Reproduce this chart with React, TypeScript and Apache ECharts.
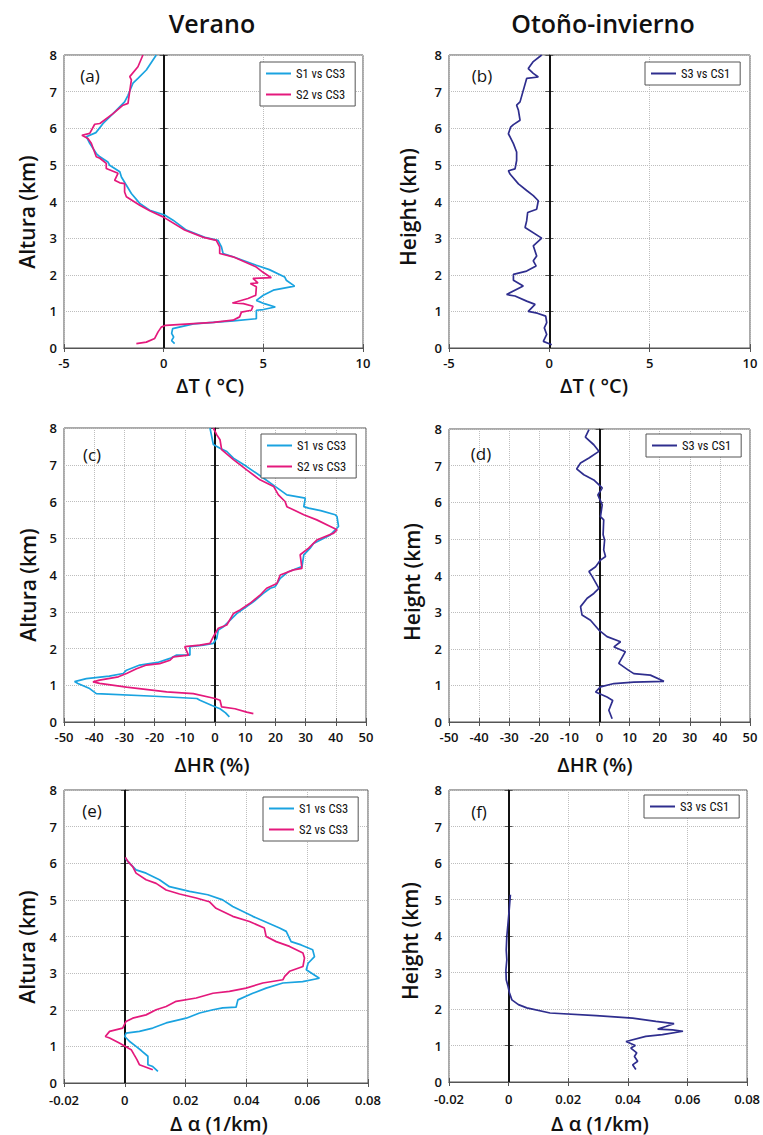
import React, { useEffect, useRef } from "react";
import * as echarts from "echarts";

// ---------- DATA (x = difference, y = height km) ----------
const yTicks = [0, 1, 2, 3, 4, 5, 6, 7, 8];
const seriesNamesVerano = ["S1 vs CS3", "S2 vs CS3"];
const seriesNamesOtono = ["S3 vs CS1"];

const aS1 = [[0.55,0.12],[0.4,0.2],[0.5,0.3],[0.4,0.4],[0.45,0.53],[1.5,0.66],[3.5,0.74],[4.65,0.8],[4.65,1.03],[5.0,1.05],[5.6,1.12],[5.05,1.21],[4.65,1.3],[5.0,1.44],[5.5,1.58],[6.57,1.69],[6.15,1.85],[6.07,1.94],[5.3,2.14],[4.65,2.26],[3.48,2.49],[2.98,2.58],[2.9,2.76],[2.73,2.94],[2.06,3.02],[1.14,3.22],[0.47,3.49],[0.05,3.63],[-0.7,3.76],[-1.2,3.95],[-1.62,4.22],[-1.9,4.47],[-2.12,4.67],[-2.2,4.81],[-2.71,4.99],[-2.8,5.08],[-3.2,5.22],[-3.38,5.31],[-3.71,5.59],[-3.88,5.77],[-3.4,5.88],[-3.04,6.13],[-2.54,6.4],[-1.96,6.72],[-1.79,6.9],[-1.54,7.23],[-1.29,7.36],[-0.87,7.59],[-0.37,8.0]];
const aS2 = [[-1.37,0.12],[-0.87,0.16],[-0.45,0.26],[-0.28,0.44],[-0.12,0.57],[0.1,0.62],[2.5,0.7],[3.48,0.76],[3.81,0.85],[3.9,0.98],[4.4,1.03],[4.48,1.14],[4.0,1.21],[3.45,1.23],[4.23,1.35],[4.62,1.44],[4.65,1.67],[4.35,1.76],[4.73,1.78],[4.48,1.9],[5.4,1.92],[5.0,2.06],[4.65,2.21],[3.48,2.49],[2.81,2.58],[2.81,2.76],[2.64,2.94],[2.0,3.02],[1.05,3.22],[-0.03,3.58],[-0.7,3.75],[-1.2,3.9],[-1.87,4.13],[-1.96,4.26],[-1.96,4.49],[-2.2,4.51],[-2.46,4.58],[-2.29,4.77],[-2.88,4.9],[-2.88,5.04],[-3.2,5.18],[-3.38,5.22],[-3.63,5.59],[-3.8,5.72],[-4.1,5.81],[-3.71,5.86],[-3.46,6.11],[-3.2,6.13],[-2.54,6.4],[-2.04,6.63],[-1.79,6.68],[-1.62,7.32],[-1.7,7.41],[-1.29,7.68],[-1.04,8.0]];
const bS3 = [[0.12,0.09],[-0.3,0.18],[-0.13,0.37],[-0.25,0.55],[-0.13,0.69],[-0.18,0.87],[-0.6,0.95],[-1.05,1.0],[-0.71,1.19],[-1.13,1.28],[-1.71,1.42],[-2.13,1.46],[-1.3,1.69],[-1.79,1.85],[-1.79,2.01],[-1.13,2.1],[-0.66,2.24],[-0.8,2.38],[-0.63,2.51],[-0.8,2.79],[-0.38,3.0],[-1.21,3.29],[-1.13,3.47],[-1.08,3.7],[-0.63,3.79],[-0.55,4.02],[-0.8,4.16],[-1.13,4.3],[-1.54,4.48],[-1.96,4.75],[-2.04,4.84],[-1.71,4.89],[-1.63,5.12],[-1.63,5.35],[-1.79,5.58],[-2.04,5.85],[-1.93,6.03],[-1.79,6.1],[-1.46,6.22],[-1.54,6.49],[-1.63,6.63],[-1.46,6.72],[-1.13,7.36],[-0.55,7.4],[-0.8,7.5],[-1.05,7.63],[-0.8,7.82],[-0.38,8.0]];
const cS1 = [[4.76,0.14],[3.5,0.25],[1.66,0.36],[-1,0.45],[-4.98,0.59],[-6,0.64],[-20,0.7],[-39.3,0.77],[-41.5,0.91],[-45.4,1.05],[-46.5,1.1],[-42.6,1.18],[-35,1.25],[-30.4,1.32],[-29.3,1.41],[-24.9,1.55],[-19,1.62],[-14.9,1.73],[-12.7,1.82],[-8.3,1.82],[-8.3,2.05],[-3.9,2.09],[-0.55,2.14],[0.55,2.27],[1.1,2.5],[2.77,2.59],[6.1,2.86],[7.2,2.95],[12.7,3.27],[16,3.5],[18.3,3.64],[19.9,3.68],[21.6,3.91],[24.3,4.09],[28.8,4.23],[29.4,4.55],[31.5,4.73],[32.6,4.86],[38.2,5.09],[40.9,5.32],[40.4,5.59],[39.8,5.64],[35,5.75],[31,5.82],[29.4,5.86],[29.9,6.09],[23.8,6.18],[19.9,6.41],[16,6.64],[10.5,6.95],[6.1,7.18],[3.9,7.36],[1.66,7.45],[-0.55,7.55],[-1.1,7.77],[-1.66,8.0]];
const cS2 = [[12.7,0.23],[10.5,0.27],[6.6,0.36],[2.2,0.41],[1.66,0.59],[0,0.64],[-7.2,0.77],[-16,0.82],[-29.3,0.95],[-38.2,1.05],[-40.4,1.09],[-38.2,1.14],[-32,1.23],[-29.3,1.32],[-26,1.45],[-22.7,1.55],[-18.3,1.59],[-14.9,1.68],[-13.8,1.77],[-8.8,1.82],[-10,2.05],[-5,2.09],[-1.66,2.14],[-0.55,2.32],[1.1,2.55],[3.9,2.64],[6.1,2.95],[8.3,3.05],[11.6,3.23],[14.9,3.45],[17.1,3.64],[20.5,3.77],[21.6,4.0],[26,4.14],[28.8,4.18],[28.2,4.55],[31,4.73],[33.7,4.95],[39.3,5.14],[40.4,5.23],[38.2,5.32],[33.7,5.5],[29.4,5.64],[23.8,5.86],[23.2,6.0],[21,6.18],[19.4,6.41],[14.9,6.59],[10.5,6.86],[6.1,7.14],[2.2,7.41],[1.66,7.68],[0.55,7.82],[-0.55,8.0]];
const dS3 = [[4.2,0.09],[3.1,0.32],[4.4,0.59],[2.5,0.68],[-1.3,0.82],[0.33,0.96],[4.8,1.05],[11.4,1.09],[21.4,1.11],[16.9,1.28],[11.4,1.32],[9.7,1.41],[6.4,1.6],[8.6,1.92],[4.8,2.05],[7.0,2.19],[2.5,2.33],[-0.2,2.51],[-3,2.78],[-5.8,2.92],[-6.3,3.15],[-4.1,3.38],[-1.9,3.51],[-0.2,3.65],[-2.4,3.97],[-3.5,4.11],[-1.3,4.24],[0.33,4.42],[2.0,4.52],[1.4,4.7],[1.7,4.97],[1.2,5.11],[1.4,5.52],[0.33,5.61],[0.9,5.93],[-0.55,6.2],[0.9,6.39],[-1.9,6.61],[-5.2,6.75],[-7.6,6.91],[-6.3,7.07],[-3.5,7.21],[-0.2,7.39],[-1.9,7.57],[-4.7,7.78],[-3.5,7.98]];
const eS1 = [[0.0109,0.32],[0.0092,0.45],[0.0076,0.5],[0.0076,0.73],[0.0055,0.88],[0.0037,1.0],[0.0015,1.14],[0,1.27],[0.0004,1.36],[0.0048,1.41],[0.0092,1.5],[0.0136,1.64],[0.0202,1.77],[0.0246,1.91],[0.029,2.0],[0.0322,2.05],[0.0366,2.07],[0.0372,2.27],[0.0421,2.45],[0.0465,2.59],[0.052,2.73],[0.0585,2.77],[0.064,2.86],[0.0597,3.09],[0.0603,3.27],[0.0624,3.45],[0.0618,3.64],[0.058,3.77],[0.0547,3.86],[0.0531,4.14],[0.0509,4.23],[0.0421,4.55],[0.0355,4.82],[0.0322,5.0],[0.0273,5.14],[0.0213,5.23],[0.0147,5.36],[0.0114,5.55],[0.007,5.73],[0.0037,5.82],[0.001,6.05],[0.0002,6.14]];
const eS2 = [[0.0092,0.36],[0.0048,0.5],[0.004,0.64],[0.003,0.78],[0.0021,0.91],[-0.0018,1.09],[-0.005,1.23],[-0.0064,1.27],[-0.005,1.41],[-0.0007,1.5],[0.0004,1.68],[0.0026,1.77],[0.007,1.86],[0.0103,2.0],[0.0136,2.09],[0.0169,2.23],[0.0235,2.32],[0.029,2.45],[0.0344,2.5],[0.0399,2.59],[0.0454,2.73],[0.052,2.82],[0.0526,2.91],[0.0542,3.05],[0.0586,3.18],[0.0591,3.41],[0.0586,3.55],[0.0542,3.73],[0.0498,3.86],[0.0465,4.0],[0.0459,4.23],[0.041,4.41],[0.0355,4.55],[0.03,4.77],[0.0278,4.95],[0.0235,5.05],[0.018,5.16],[0.0136,5.27],[0.0103,5.45],[0.007,5.55],[0.0037,5.73],[0.0026,5.91],[0.001,6.05],[0.0002,6.16]];
const fS3 = [[0.0427,0.34],[0.0416,0.47],[0.0433,0.57],[0.0422,0.7],[0.043,0.8],[0.041,0.93],[0.0425,1.0],[0.0394,1.11],[0.046,1.25],[0.0516,1.3],[0.0585,1.39],[0.055,1.43],[0.05,1.45],[0.0527,1.52],[0.0555,1.6],[0.0494,1.66],[0.0416,1.75],[0.0294,1.82],[0.0139,1.89],[0.0061,2.03],[0.0033,2.12],[0.0011,2.25],[0.0003,2.44],[-0.0002,2.62],[-0.0008,2.8],[-0.0009,3.07],[-0.0006,3.35],[-0.0008,3.62],[-0.0006,3.99],[-0.0002,4.35],[0.0002,4.72],[0.0006,5.13]];

// ---------- STYLE / LAYOUT ----------
const CYAN = "#1aa3e0";
const MAGENTA = "#e4197c";
const NAVY = "#2f2e8e";
const FONT = "'Open Sans', 'DejaVu Sans', sans-serif";

const panels = [
  { label: "(a)", grid: { left: 64, top: 55, width: 299, height: 293 }, xMin: -5, xMax: 10, xInt: 5, dec: 0, xMargin: 8,
    series: [{ name: seriesNamesVerano[0], data: aS1, color: CYAN }, { name: seriesNamesVerano[1], data: aS2, color: MAGENTA }],
    yName: "Altura (km)", xName: "ΔT ( °C)", legend: seriesNamesVerano, legendPos: { left: 260, top: 62 },
    labelPos: [90, 75], yNamePos: [27, 212], xNamePos: [210, 385] },
  { label: "(b)", grid: { left: 449, top: 55, width: 301, height: 293 }, xMin: -5, xMax: 10, xInt: 5, dec: 0, xMargin: 8,
    series: [{ name: seriesNamesOtono[0], data: bS3, color: NAVY }],
    yName: "Height (km)", xName: "ΔT ( °C)", legend: seriesNamesOtono, legendPos: { left: 645, top: 62 },
    labelPos: [482, 75], yNamePos: [408, 207], xNamePos: [594, 385] },
  { label: "(c)", grid: { left: 64, top: 428, width: 302, height: 294 }, xMin: -50, xMax: 50, xInt: 10, dec: 0, xMargin: 8,
    series: [{ name: seriesNamesVerano[0], data: cS1, color: CYAN }, { name: seriesNamesVerano[1], data: cS2, color: MAGENTA }],
    yName: "Altura (km)", xName: "ΔHR (%)", legend: seriesNamesVerano, legendPos: { left: 261, top: 434 },
    labelPos: [92, 454], yNamePos: [28, 585], xNamePos: [212, 764] },
  { label: "(d)", grid: { left: 449, top: 429, width: 301, height: 293 }, xMin: -50, xMax: 50, xInt: 10, dec: 0, xMargin: 8,
    series: [{ name: seriesNamesOtono[0], data: dS3, color: NAVY }],
    yName: "Height (km)", xName: "ΔHR (%)", legend: seriesNamesOtono, legendPos: { left: 646, top: 434 },
    labelPos: [481, 453], yNamePos: [412, 582], xNamePos: [595, 764] },
  { label: "(e)", grid: { left: 64, top: 790, width: 304, height: 293 }, xMin: -0.02, xMax: 0.08, xInt: 0.02, dec: 2, xMargin: 10,
    series: [{ name: seriesNamesVerano[0], data: eS1, color: CYAN }, { name: seriesNamesVerano[1], data: eS2, color: MAGENTA }],
    yName: "Altura (km)", xName: "Δ α (1/km)", legend: seriesNamesVerano, legendPos: { left: 263, top: 797 },
    labelPos: [92, 810], yNamePos: [27, 947], xNamePos: [219, 1123] },
  { label: "(f)", grid: { left: 449, top: 790, width: 300, height: 292 }, xMin: -0.02, xMax: 0.08, xInt: 0.02, dec: 2, xMargin: 10,
    series: [{ name: seriesNamesOtono[0], data: fS3, color: NAVY }],
    yName: "Height (km)", xName: "Δ α (1/km)", legend: seriesNamesOtono, legendPos: { left: 644, top: 795 },
    labelPos: [479, 811], yNamePos: [410, 941], xNamePos: [600, 1123] },
];

const AXIS_COLOR = "#555";
const tickLabel = { color: "#111", fontFamily: FONT, fontWeight: 600, fontSize: 13 };

function buildOption() {
  const grid: any[] = [];
  const xAxis: any[] = [];
  const yAxis: any[] = [];
  const series: any[] = [];
  const legend: any[] = [];
  const graphic: any[] = [];

  panels.forEach((p, i) => {
    grid.push({ ...p.grid, show: true, borderColor: AXIS_COLOR, borderWidth: 1, backgroundColor: "#fff" });
    const fmt = (v: number) => {
      const r = Math.round(v * 1e6) / 1e6;
      return r === 0 ? "0" : r.toFixed(p.dec);
    };
    xAxis.push({
      type: "value", gridIndex: i, min: p.xMin, max: p.xMax, interval: p.xInt, position: "bottom",
      axisLine: { show: true, lineStyle: { color: AXIS_COLOR, width: 1 } },
      axisTick: { show: true, inside: true, length: 4, lineStyle: { color: AXIS_COLOR } },
      axisLabel: { ...tickLabel, margin: p.xMargin, lineHeight: 14, formatter: fmt, showMinLabel: true, showMaxLabel: true },
      splitLine: { show: true, lineStyle: { color: "#bdbdbd", type: "dotted", width: 1 } },
    });
    xAxis.push({
      type: "value", gridIndex: i, min: p.xMin, max: p.xMax, interval: p.xInt, position: "top",
      axisLine: { show: true, lineStyle: { color: AXIS_COLOR, width: 1 } },
      axisTick: { show: true, inside: true, length: 4, lineStyle: { color: AXIS_COLOR } },
      axisLabel: { show: false }, splitLine: { show: false },
    });
    yAxis.push({
      type: "value", gridIndex: i, min: 0, max: 8, interval: 1, position: "left",
      axisLine: { show: true, lineStyle: { color: AXIS_COLOR, width: 1 } },
      axisTick: { show: true, inside: true, length: 4, lineStyle: { color: AXIS_COLOR } },
      axisLabel: { ...tickLabel, margin: 7, lineHeight: 14,
        formatter: (v: number) => String(yTicks[Math.round(v)] ?? v) },
      splitLine: { show: true, lineStyle: { color: "#bdbdbd", type: "dotted", width: 1 } },
    });
    yAxis.push({
      type: "value", gridIndex: i, min: 0, max: 8, interval: 1, position: "right",
      axisLine: { show: true, lineStyle: { color: AXIS_COLOR, width: 1 } },
      axisTick: { show: true, inside: true, length: 4, lineStyle: { color: AXIS_COLOR } },
      axisLabel: { show: false }, splitLine: { show: false },
    });

    p.series.forEach((s, k) => {
      series.push({
        type: "line", name: s.name, xAxisIndex: 2 * i, yAxisIndex: 2 * i,
        data: s.data, symbol: "none", showSymbol: false, smooth: false,
        lineStyle: { color: s.color, width: 1.7 }, itemStyle: { color: s.color },
        z: 3,
        markLine: k === 0 ? {
          silent: true, symbol: "none", label: { show: false },
          lineStyle: { color: "#111", width: 2, type: "solid" },
          data: [{ xAxis: 0 }], z: 2,
        } : undefined,
      });
    });

    legend.push({
      left: p.legendPos.left, top: p.legendPos.top, orient: "vertical",
      data: p.legend.map((n) => ({ name: n, icon: "rect" })), selectedMode: false,
      backgroundColor: "#fff", borderColor: "#555", borderWidth: 1, borderRadius: 0,
      padding: [4, 10, 4, 6], itemGap: 6, itemWidth: 25, itemHeight: 2,
      textStyle: { fontFamily: "'Liberation Sans Narrow', 'Roboto Condensed', 'Roboto', sans-serif", fontSize: 12.5, color: "#111", lineHeight: 15 },
    });

    graphic.push({
      type: "text", x: p.labelPos[0], y: p.labelPos[1],
      style: { text: p.label, fill: "#111", font: `400 17px ${FONT}`, textAlign: "center", textVerticalAlign: "middle" },
      z: 10,
    });
    graphic.push({
      type: "text", x: p.yNamePos[0], y: p.yNamePos[1], rotation: Math.PI / 2,
      style: { text: p.yName, fill: "#111", font: `600 21px ${FONT}`, textAlign: "center", textVerticalAlign: "middle" },
    });
    graphic.push({
      type: "text", x: p.xNamePos[0], y: p.xNamePos[1],
      style: { text: p.xName, fill: "#111", font: `600 20px ${FONT}`, textAlign: "center", textVerticalAlign: "middle" },
    });
  });

  graphic.push({
    type: "text", x: 212, y: 23,
    style: { text: "Verano", fill: "#111", font: `600 25px ${FONT}`, textAlign: "center", textVerticalAlign: "middle" },
  });
  graphic.push({
    type: "text", x: 603, y: 23,
    style: { text: "Otoño-invierno", fill: "#111", font: `600 25px ${FONT}`, textAlign: "center", textVerticalAlign: "middle" },
  });

  return { animation: false, backgroundColor: "#fff", grid, xAxis, yAxis, series, legend, graphic };
}

export default function App() {
  const ref = useRef<HTMLDivElement>(null);
  useEffect(() => {
    if (!ref.current) return;
    const chart = echarts.init(ref.current, undefined, { renderer: "svg" });
    chart.setOption(buildOption() as any);
    return () => chart.dispose();
  }, []);
  return (
    <div
      ref={ref}
      style={{ position: "absolute", left: 0, top: 0, width: 763, height: 1135, background: "#fff" }}
    />
  );
}
